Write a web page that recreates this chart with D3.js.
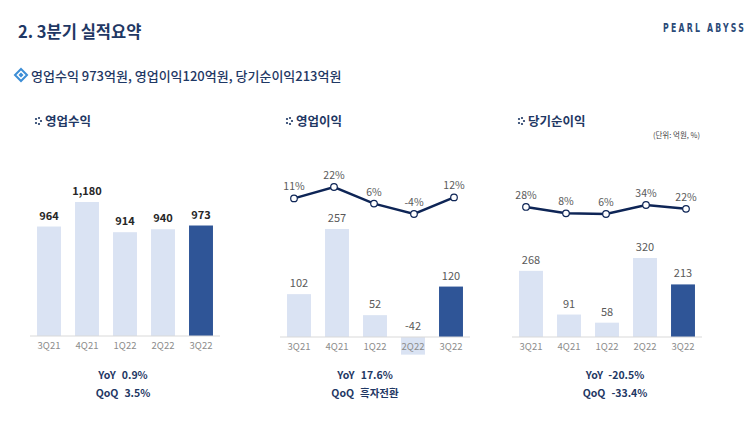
<!DOCTYPE html>
<html>
<head>
<meta charset="utf-8">
<script src="https://cdn.jsdelivr.net/npm/d3@7/dist/d3.min.js"></script>
<style>
  body { margin: 0; background: #fff; }
  text { font-family: "Noto Sans CJK KR", "Noto Sans", sans-serif; }
</style>
</head>
<body>
<svg id="chart"></svg>
<script>
const quarters = ['3Q21', '4Q21', '1Q22', '2Q22', '3Q22']
const revenue = [964, 1180, 914, 940, 973]
const opIncome = [102, 257, 52, -42, 120]
const opMargin = [11, 22, 6, -4, 12]
const netIncome = [268, 91, 58, 320, 213]
const netMargin = [28, 8, 6, 34, 22]

const width = 752, height = 423
const navy = '#1f3864', lineCol = '#0e2556', light = '#dae3f3', dark = '#2f5597'

const svg = d3.select('#chart')
    .attr('width', width)
    .attr('height', height)

// header
svg.append('text')
    .attr('x', 18).attr('y', 38)
    .attr('font-size', 16.5).attr('font-weight', 700)
    .attr('fill', navy)
    .text('2. 3분기 실적요약')

svg.append('text')
    .attr('transform', 'translate(663,31.5) scale(0.72,1)')
    .attr('font-size', 12).attr('font-weight', 700)
    .attr('letter-spacing', 3.1)
    .attr('fill', '#2b4a78')
    .style('font-family', '"DejaVu Sans Condensed", sans-serif')
    .text('PEARL ABYSS')

// sub headline with diamond icon
const dia = svg.append('g').attr('transform', 'translate(21,75)')
dia.append('path').attr('d', 'M0,-6 L6,0 L0,6 L-6,0Z')
    .attr('fill', 'none').attr('stroke', '#3d8ed6').attr('stroke-width', 2)
dia.append('path').attr('d', 'M0,-2.5 L2.5,0 L0,2.5 L-2.5,0Z')
    .attr('fill', '#3d8ed6')

svg.append('text')
    .attr('x', 31).attr('y', 80.5)
    .attr('font-size', 13).attr('font-weight', 500)
    .attr('fill', navy)
    .text('영업수익 973억원, 영업이익120억원, 당기순이익213억원')

svg.append('text')
    .attr('x', 700).attr('y', 138)
    .attr('text-anchor', 'end')
    .attr('font-size', 7.5)
    .attr('fill', '#404040')
    .text('(단위: 억원, %)')

const panels = [
    { title: '영업수익', x0: 30, bars: revenue, dom: [0, 1180], rng: [336, 202], labFmt: d3.format(','), bold: true,
      yoy: '0.9%', qoq: '3.5%', cx: 123 },
    { title: '영업이익', x0: 280, bars: opIncome, dom: [0, 257], rng: [337, 229], labFmt: String, line: opMargin,
      ldom: [-4, 22], lrng: [214, 187], yoy: '17.6%', qoq: '흑자전환', cx: 365 },
    { title: '당기순이익', x0: 512, bars: netIncome, dom: [0, 320], rng: [337, 258], labFmt: String, line: netMargin,
      ldom: [6, 34], lrng: [214, 205], yoy: '-20.5%', qoq: '-33.4%', cx: 615 },
]

panels.forEach(p => {
    const g = svg.append('g')

    // title with dotted chevron icon
    const tx = p.x0 + (p.x0 === 30 ? 6 : 7)
    const ic = g.append('g').attr('transform', `translate(${tx},121)`)
    ;[[0, -2], [0, 2], [3, -3], [5, 0], [3, 3]].forEach(([dx, dy]) => {
        ic.append('circle').attr('cx', dx).attr('cy', dy).attr('r', 1.1).attr('fill', navy)
    })
    g.append('text')
        .attr('x', tx + 9).attr('y', 126)
        .attr('font-size', 12.5).attr('font-weight', 700)
        .attr('fill', navy)
        .text(p.title)

    const x = d3.scaleBand()
        .domain(quarters)
        .range([p.x0, p.x0 + 190])
        .paddingInner(0.37)
        .paddingOuter(0.185)

    const y = d3.scaleLinear().domain(p.dom).range(p.rng)

    g.selectAll('.bar')
        .data(p.bars)
        .join('rect')
        .attr('x', (d, i) => x(quarters[i]))
        .attr('width', x.bandwidth())
        .attr('y', d => Math.min(y(d), y(0)))
        .attr('height', d => Math.abs(y(d) - y(0)))
        .attr('fill', (d, i) => i === quarters.length - 1 ? dark : light)

    g.selectAll('.blab')
        .data(p.bars)
        .join('text')
        .attr('x', (d, i) => x(quarters[i]) + x.bandwidth() / 2)
        .attr('y', d => (d < 0 ? y(0) : y(d)) - 7)
        .attr('text-anchor', 'middle')
        .attr('font-size', 11)
        .attr('font-weight', p.bold ? 600 : 400)
        .attr('fill', p.bold ? '#262626' : '#595959')
        .text(d => p.labFmt(d))

    // axis
    const axis = g.append('g')
        .attr('transform', `translate(0,${y(0)})`)
        .call(d3.axisBottom(x).tickSize(0).tickPadding(6))
    axis.select('.domain').attr('stroke', '#d9d9d9').attr('stroke-width', 1)
        .attr('d', `M${p.x0},0H${p.x0 + 190}`)
    axis.selectAll('text')
        .attr('font-size', 9.5)
        .attr('fill', '#8c8c8c')
        .style('font-family', '"Noto Sans CJK KR", sans-serif')

    if (p.line) {
        const lx = d3.scalePoint().domain(quarters).range([p.x0 + 14, p.x0 + 174])
        const ly = d3.scaleLinear().domain(p.ldom).range(p.lrng)
        g.append('path')
            .datum(p.line)
            .attr('d', d3.line().x((d, i) => lx(quarters[i])).y(d => ly(d)))
            .attr('fill', 'none')
            .attr('stroke', lineCol)
            .attr('stroke-width', 2.5)
        g.selectAll('.pt')
            .data(p.line)
            .join('circle')
            .attr('cx', (d, i) => lx(quarters[i]))
            .attr('cy', d => ly(d))
            .attr('r', 3.3)
            .attr('fill', '#fff')
            .attr('stroke', lineCol)
            .attr('stroke-width', 1.2)
        g.selectAll('.plab')
            .data(p.line)
            .join('text')
            .attr('x', (d, i) => lx(quarters[i]))
            .attr('y', d => ly(d) - 8)
            .attr('text-anchor', 'middle')
            .attr('font-size', 10.5)
            .attr('fill', '#595959')
            .text(d => d + '%')
    }

    // YoY / QoQ
    ;[['YoY', p.yoy, 379], ['QoQ', p.qoq, 397]].forEach(([k, v, yy]) => {
        const t = g.append('text')
            .attr('x', p.cx).attr('y', yy)
            .attr('text-anchor', 'middle')
            .attr('font-size', 10.5).attr('font-weight', 700)
            .attr('fill', navy)
        t.append('tspan').text(k)
        t.append('tspan').attr('dx', 6).text(v)
    })
})
</script>
</body>
</html>
